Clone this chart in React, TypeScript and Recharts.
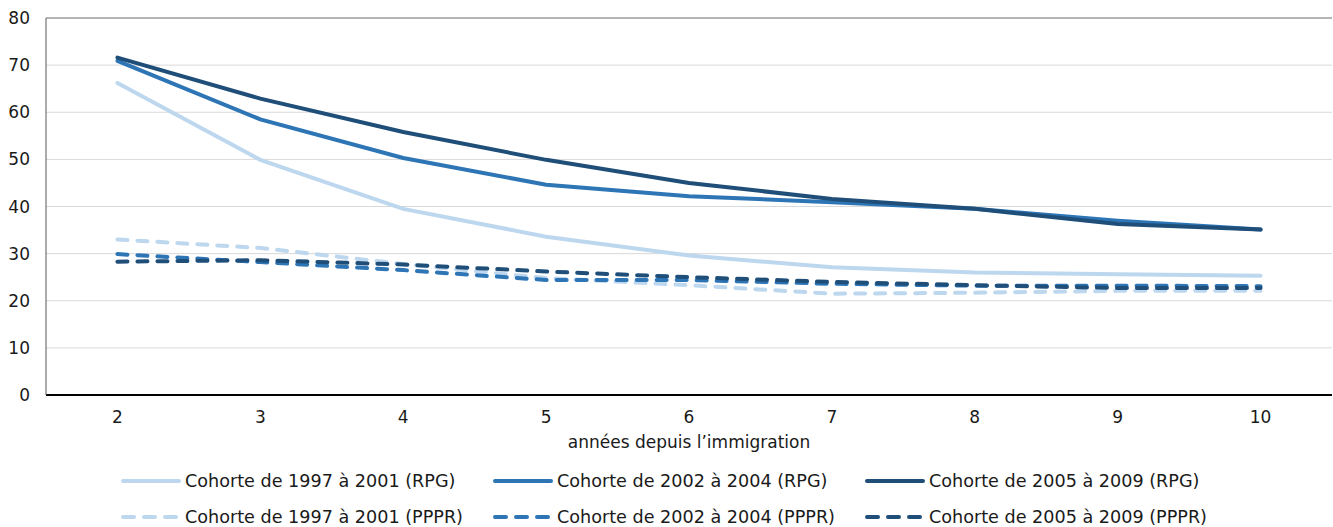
import {
  CartesianGrid,
  Legend,
  Line,
  LineChart,
  ReferenceLine,
  XAxis,
  YAxis,
} from "recharts";

const LIGHT = "#BDD7EE";
const MID = "#2E75B6";
const DARK = "#1F4E79";
const FONT = "'DejaVu Sans', Verdana, sans-serif";

const years = ["2", "3", "4", "5", "6", "7", "8", "9", "10"];

const rpg9701 = [66.2, 49.9, 39.5, 33.6, 29.6, 27.1, 26.0, 25.6, 25.3];
const rpg0204 = [70.9, 58.5, 50.3, 44.6, 42.2, 40.9, 39.5, 37.0, 35.1];
const rpg0509 = [71.6, 62.9, 55.8, 49.9, 45.0, 41.6, 39.5, 36.3, 35.1];
const pppr9701 = [33.0, 31.2, 27.8, 24.8, 23.3, 21.5, 21.7, 22.1, 22.1];
const pppr0204 = [29.9, 28.2, 26.5, 24.4, 24.4, 23.6, 23.2, 23.2, 23.1];
const pppr0509 = [28.3, 28.6, 27.7, 26.2, 25.0, 24.0, 23.3, 22.7, 22.7];

const yTicks = [0, 10, 20, 30, 40, 50, 60, 70, 80];

const series = [
  { key: "a", name: "Cohorte de 1997 à 2001 (RPG)", color: LIGHT, dashed: false, values: rpg9701 },
  { key: "b", name: "Cohorte de 2002 à 2004 (RPG)", color: MID, dashed: false, values: rpg0204 },
  { key: "c", name: "Cohorte de 2005 à 2009 (RPG)", color: DARK, dashed: false, values: rpg0509 },
  { key: "d", name: "Cohorte de 1997 à 2001 (PPPR)", color: LIGHT, dashed: true, values: pppr9701 },
  { key: "e", name: "Cohorte de 2002 à 2004 (PPPR)", color: MID, dashed: true, values: pppr0204 },
  { key: "f", name: "Cohorte de 2005 à 2009 (PPPR)", color: DARK, dashed: true, values: pppr0509 },
];

const data = years.map((year, i) => {
  const row: Record<string, string | number> = { year };
  series.forEach((s) => (row[s.key] = s.values[i]));
  return row;
});

function LegendBox() {
  return (
    <div style={{ display: "flex", flexWrap: "wrap", width: 1116, marginLeft: 121, fontFamily: FONT, fontSize: 17.6, color: "#1a1a1a" }}>
      {series.map((s) => (
        <div key={s.key} style={{ width: 372, height: 36, display: "flex", alignItems: "center" }}>
          <svg width={62} height={8} style={{ marginRight: 2 }}>
            <line
              x1={2}
              x2={58}
              y1={4}
              y2={4}
              stroke={s.color}
              strokeWidth={4}
              strokeLinecap="round"
              strokeDasharray={s.dashed ? "11 10" : undefined}
            />
          </svg>
          <span>{s.name}</span>
        </div>
      ))}
    </div>
  );
}

export default function App() {
  return (
    <div style={{ position: "absolute", left: 0, top: 0, background: "#fff" }}>
      <LineChart width={1333} height={527} data={data} margin={{ top: 18, right: 1, bottom: 0, left: 0 }}>
        <CartesianGrid vertical={false} stroke="#D9D9D9" />
        <XAxis
          dataKey="year"
          scale="band"
          height={60}
          tickLine={false}
          tickMargin={10}
          stroke="#000"
          strokeWidth={2}
          tick={{ fill: "#1a1a1a", fontSize: 17, fontFamily: FONT }}
          label={{ value: "années depuis l’immigration", position: "insideBottom", offset: 7, fill: "#1a1a1a", fontSize: 17, fontFamily: FONT }}
        />
        <YAxis
          domain={[0, 80]}
          ticks={yTicks}
          width={46}
          tickLine={false}
          tickMargin={10}
          stroke="#595959"
          tick={{ fill: "#1a1a1a", fontSize: 17, fontFamily: FONT }}
        />
        <YAxis yAxisId="frame" orientation="right" width={0} tick={false} tickLine={false} stroke="#7f7f7f" />
        <ReferenceLine y={80} stroke="#7f7f7f" />
        {series.map((s) => (
          <Line
            key={s.key}
            dataKey={s.key}
            name={s.name}
            stroke={s.color}
            strokeWidth={4}
            strokeLinecap="round"
            strokeDasharray={s.dashed ? "10 10" : undefined}
            dot={false}
            activeDot={false}
            isAnimationActive={false}
          />
        ))}
        <Legend content={<LegendBox />} wrapperStyle={{ top: 463, left: 0, width: 1333 }} />
      </LineChart>
    </div>
  );
}
